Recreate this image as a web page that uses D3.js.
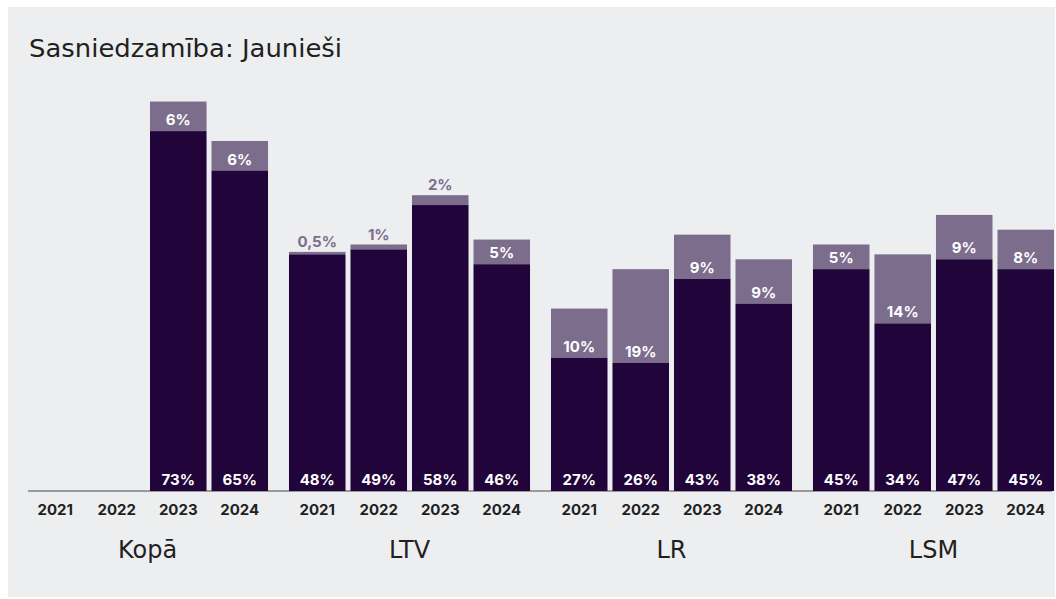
<!DOCTYPE html>
<html>
<head>
<meta charset="utf-8">
<script src="https://cdn.jsdelivr.net/npm/d3@7"></script>
<style>
  html, body { margin: 0; padding: 0; background: #ffffff; }
  svg { display: block; }
  text { font-family: Inter, "Open Sans", sans-serif; }
  .big { font-family: "DejaVu Sans", Inter, sans-serif; }
</style>
</head>
<body>
<div id="chart"></div>
<script>
var svgWidth = 1056;
var svgHeight = 599;

// data
var groups = ["Kopā", "LTV", "LR", "LSM"];
var years = ["2021", "2022", "2023", "2024"];
// dark part (base) and light part (added on top), null = no bar
var baseValues = [
  [null, null, 73, 65],
  [48, 49, 58, 46],
  [27, 26, 43, 38],
  [45, 34, 47, 45]
];
var extraValues = [
  [null, null, 6, 6],
  [0.5, 1, 2, 5],
  [10, 19, 9, 9],
  [5, 14, 9, 8]
];
var extraLabels = [
  [null, null, "6%", "6%"],
  ["0,5%", "1%", "2%", "5%"],
  ["10%", "19%", "9%", "9%"],
  ["5%", "14%", "9%", "8%"]
];

var darkColor = "#20043a";
var lightColor = "#7c6d8d";
var textColor = "#231f20";
var baseline = 491;

var svg = d3.select("#chart")
  .append("svg")
  .attr("width", svgWidth)
  .attr("height", svgHeight);

// panel
svg.append("rect")
  .attr("x", 8)
  .attr("y", 7)
  .attr("width", 1047)
  .attr("height", 590)
  .attr("fill", "#eceef0");

svg.append("text")
  .attr("class", "big")
  .attr("x", 29)
  .attr("y", 57)
  .attr("font-size", 25)
  .attr("fill", textColor)
  .attr("textLength", 313)
  .attr("lengthAdjust", "spacingAndGlyphs")
  .text("Sasniedzamība: Jaunieši");

// scales
var xGroup = d3.scaleBand()
  .domain(groups)
  .range([27, 1054])
  .paddingInner(0.08)
  .paddingOuter(0);

var xYear = d3.scaleBand()
  .domain(years)
  .range([0, xGroup.bandwidth()])
  .paddingInner(0.081)
  .paddingOuter(0);

var y = d3.scaleLinear()
  .domain([0, 80])
  .range([baseline, baseline - 80 * 4.93]);

// flatten into rows
var rows = [];
groups.forEach(function(g, gi) {
  years.forEach(function(yr, yi) {
    rows.push({
      group: g,
      year: yr,
      base: baseValues[gi][yi],
      extra: extraValues[gi][yi],
      label: extraLabels[gi][yi]
    });
  });
});

// axis line
svg.append("line")
  .attr("x1", 28)
  .attr("x2", 1052)
  .attr("y1", baseline)
  .attr("y2", baseline)
  .attr("stroke", "#9a9a9a")
  .attr("stroke-width", 2);

var barRows = rows.filter(d => d.base !== null);

var barGroup = svg.append("g");

barGroup.selectAll("rect.extra")
  .data(barRows)
  .enter()
  .append("rect")
  .attr("class", "extra")
  .attr("x", d => xGroup(d.group) + xYear(d.year))
  .attr("y", d => y(d.base + d.extra))
  .attr("width", xYear.bandwidth())
  .attr("height", d => y(d.base) - y(d.base + d.extra))
  .attr("fill", lightColor);

barGroup.selectAll("rect.base")
  .data(barRows)
  .enter()
  .append("rect")
  .attr("class", "base")
  .attr("x", d => xGroup(d.group) + xYear(d.year))
  .attr("y", d => y(d.base))
  .attr("width", xYear.bandwidth())
  .attr("height", d => y(0) - y(d.base))
  .attr("fill", darkColor);

// base labels
barGroup.selectAll("text.baseLabel")
  .data(barRows)
  .enter()
  .append("text")
  .attr("class", "baseLabel")
  .attr("x", d => xGroup(d.group) + xYear(d.year) + xYear.bandwidth() / 2)
  .attr("y", baseline - 6)
  .attr("text-anchor", "middle")
  .attr("font-size", 15)
  .attr("font-weight", 700)
  .attr("fill", "#ffffff")
  .text(d => d.base + "%");

// extra labels: inside when big, above bar when small
barGroup.selectAll("text.extraLabel")
  .data(barRows)
  .enter()
  .append("text")
  .attr("class", "extraLabel")
  .attr("x", d => xGroup(d.group) + xYear(d.year) + xYear.bandwidth() / 2)
  .attr("y", d => d.extra < 3 ? y(d.base + d.extra) - 5 : y(d.base) - 6)
  .attr("text-anchor", "middle")
  .attr("font-size", 15)
  .attr("font-weight", 700)
  .attr("fill", d => d.extra < 3 ? lightColor : "#ffffff")
  .text(d => d.label);

// year labels
svg.append("g").selectAll("text")
  .data(rows)
  .enter()
  .append("text")
  .attr("x", d => xGroup(d.group) + xYear(d.year) + xYear.bandwidth() / 2)
  .attr("y", 515)
  .attr("text-anchor", "middle")
  .attr("font-size", 15)
  .attr("font-weight", 700)
  .attr("fill", textColor)
  .text(d => d.year);

// group labels
svg.append("g").selectAll("text")
  .data(groups)
  .enter()
  .append("text")
  .attr("class", "big")
  .attr("x", d => xGroup(d) + xGroup.bandwidth() / 2)
  .attr("y", 558)
  .attr("text-anchor", "middle")
  .attr("font-size", 24)
  .attr("fill", textColor)
  .text(d => d);
</script>
</body>
</html>
